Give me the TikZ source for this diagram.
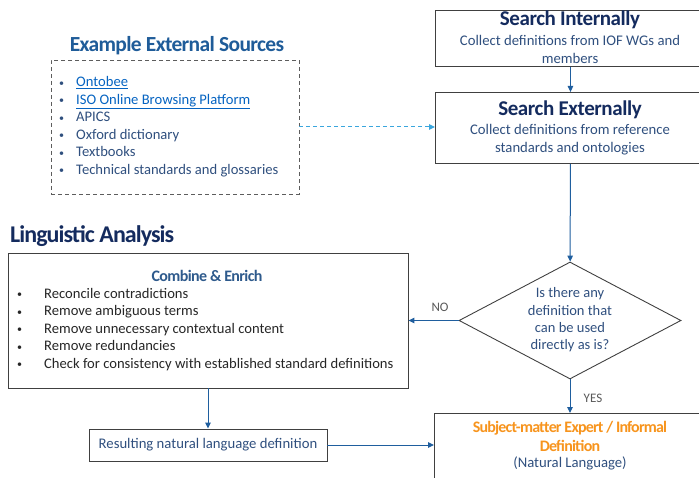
\documentclass[tikz,border=0pt]{standalone}
\usepackage{fontspec}
\setmainfont{Carlito}
\newfontfamily\headfont{Carlito}
\usetikzlibrary{shapes.geometric,arrows.meta}

\definecolor{navy}{HTML}{142B5E}
\definecolor{midblue}{HTML}{1F5C99}
\definecolor{bodyblue}{HTML}{2F4F7E}
\definecolor{listgray}{HTML}{262626}
\definecolor{linkblue}{HTML}{0563C1}
\definecolor{boxgray}{HTML}{404040}
\definecolor{flowblue}{HTML}{1F5E9E}
\definecolor{dashblue}{HTML}{3AA6DD}
\definecolor{labgray}{HTML}{595959}
\definecolor{smeorange}{HTML}{F7941D}
\definecolor{combblue}{HTML}{2E5A8C}

% small list bullet
\newcommand{\listdot}[1]{\makebox[#1][l]{\raisebox{0.5pt}{\fontsize{10}{10}\selectfont\textbullet}}}

\begin{document}
\begin{tikzpicture}[x=1pt,y=-1pt,
  box/.style={draw=boxgray, line width=0.9pt, rectangle, inner sep=0},
  flow/.style={draw=flowblue, line width=1pt, -{Triangle[length=6pt,width=5.5pt]}},
  body/.style={font=\fontsize{14.7}{18.5}\selectfont, text=bodyblue, align=center, inner sep=0},
  listtext/.style={font=\fontsize{14.6}{17.5}\selectfont, align=left, inner sep=0, anchor=west},
  head/.style={font=\headfont\bfseries\fontsize{21}{22}\selectfont\addfontfeature{LetterSpace=-2}, text=navy, inner sep=0},
  lab/.style={font=\fontsize{13}{14}\selectfont, text=labgray, inner sep=0}]
\useasboundingbox (0,0) rectangle (699,478);
\clip (0,0) rectangle (699,478);

% right column: searches, decision, expert definition
\node[box, minimum width=270pt, minimum height=56pt, anchor=north west] (sint) at (435,10) {};
\node[head] (sinthead) at (570,20) {Search Internally};
\node[body] (sinttext) at (570,49.5) {Collect definitions from IOF WGs and\\members};

\node[box, minimum width=270pt, minimum height=71pt, anchor=north west] (sext) at (435,92) {};
\node[head] (sexthead) at (570,110) {Search Externally};
\node[body] (sexttext) at (570,139.5) {Collect definitions from reference\\standards and ontologies};

\node[diamond, draw=boxgray, line width=0.9pt, minimum width=222pt, minimum height=117pt, inner sep=0] (dec) at (570,320.5) {};
\node[body, font=\fontsize{14.5}{17.3}\selectfont] (dectext) at (570,320) {Is there any\\definition that\\can be used\\directly as is?};

\node[box, minimum width=270pt, minimum height=80pt, anchor=north west] (sme) at (434,413) {};
\node[head, font=\headfont\bfseries\fontsize{16}{19}\selectfont\addfontfeature{LetterSpace=-5}, text=smeorange, align=center] (smehead) at (570,436.5) {Subject-matter Expert / Informal\\Definition};
\node[body] (smetext) at (570,463) {(Natural Language)};

% external sources
\node[head, font=\headfont\bfseries\fontsize{21.5}{22}\selectfont\addfontfeature{LetterSpace=-3}, text=midblue] (exthead) at (177,46) {Example External Sources};
\node[draw=boxgray!85, line width=0.9pt, dash pattern=on 4pt off 3pt, minimum width=248pt, minimum height=134pt, inner sep=0] (ext) at (175,127) {};
\node[listtext, text=bodyblue] (extlist) at (59,126.5) {%
  \listdot{17pt}\textcolor{linkblue}{\underline{Ontobee}}\\
  \listdot{17pt}\textcolor{linkblue}{\underline{ISO Online Browsing Platform}}\\
  \listdot{17pt}APICS\\
  \listdot{17pt}Oxford dictionary\\
  \listdot{17pt}Textbooks\\
  \listdot{17pt}Technical standards and glossaries};

% linguistic analysis
\node[head, font=\headfont\bfseries\fontsize{24}{24}\selectfont\addfontfeature{LetterSpace=-4}, anchor=west] (linghead) at (10,236) {Linguistic Analysis};
\node[box, minimum width=400pt, minimum height=135pt] (comb) at (208,320.5) {};
\node[head, font=\headfont\bfseries\fontsize{16}{18}\selectfont\addfontfeature{LetterSpace=-4}, text=combblue] (combhead) at (207,276) {Combine \& Enrich};
\node[listtext, text=listgray] (comblist) at (17,329.5) {%
  \listdot{27pt}Reconcile contradictions\\
  \listdot{27pt}Remove ambiguous terms\\
  \listdot{27pt}Remove unnecessary contextual content\\
  \listdot{27pt}Remove redundancies\\
  \listdot{27pt}Check for consistency with established standard definitions};

\node[box, minimum width=238pt, minimum height=32pt, font=\fontsize{14.7}{16}\selectfont, text=bodyblue] (res) at (208,445) {Resulting natural language definition};

% connectors
\draw[flow] (sint) -- (sext);
\draw[flow] (sext) -- (dec);
\draw[flow] (dec.west) -- (comb.east);
\draw[flow] (dec.south) -- (dec.south |- sme.north);
\draw[flow] (comb.south) -- (res.north);
\draw[flow] (res.east) -- (res.east -| sme.west);
\draw[draw=dashblue, line width=1pt, dash pattern=on 4pt off 3pt, -{Triangle[length=6pt,width=5.5pt]}] (ext.east) -- (ext.east -| sext.west);

\node[lab] (nolab) at (440,307) {NO};
\node[lab] (yeslab) at (593,398) {YES};
\end{tikzpicture}
\end{document}
